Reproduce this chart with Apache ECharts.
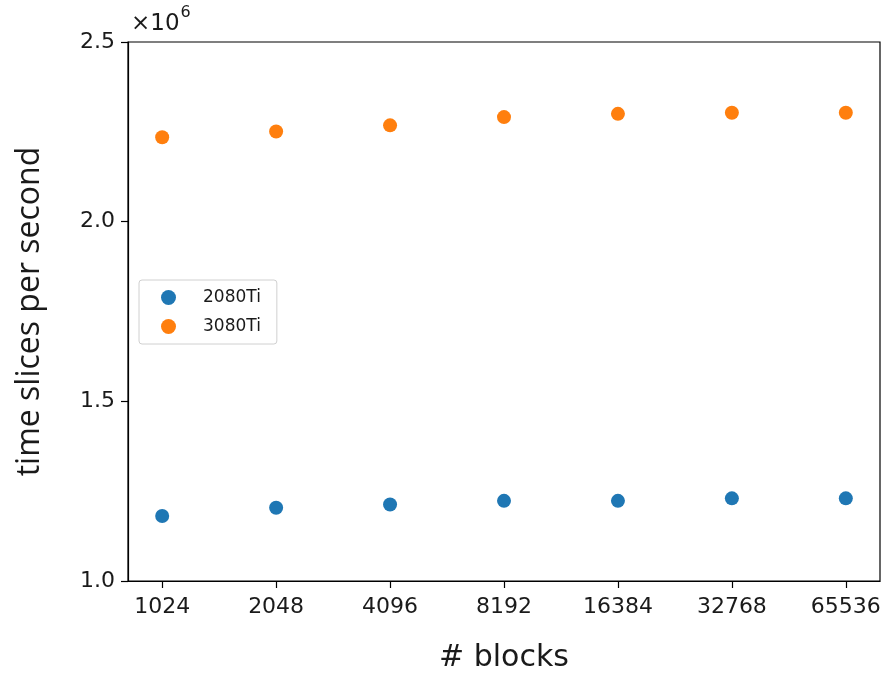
<!DOCTYPE html>
<html>
<head>
<meta charset="utf-8">
<script src="https://cdn.jsdelivr.net/npm/echarts@6/dist/echarts.min.js"></script>
<style>
  html, body { margin: 0; padding: 0; background: #fff; }
  #chart { width: 894px; height: 678px; }
</style>
</head>
<body>
<div id="chart"></div>
<script>
// Block counts along the x axis
const blockCounts = ['1024', '2048', '4096', '8192', '16384', '32768', '65536'];
// Throughput (time slices per second) for each GPU
const rate2080Ti = [1.181e6, 1.204e6, 1.213e6, 1.223e6, 1.223e6, 1.230e6, 1.230e6];
const rate3080Ti = [2.235e6, 2.251e6, 2.268e6, 2.291e6, 2.300e6, 2.303e6, 2.303e6];
// Y tick settings
const yMin = 1.0e6, yMax = 2.5e6, yStep = 0.5e6;

const tickIdx = blockCounts.map((_, i) => i);
const toPoints = vals => vals.map((v, i) => [i, v]);

const chart = echarts.init(document.getElementById('chart'), null, { renderer: 'canvas' });
const ink = '#1a1a1a';
const tickFont = { fontFamily: 'DejaVu Sans', fontSize: 22, color: ink };

chart.setOption({
  animation: false,
  backgroundColor: '#fff',
  grid: {
    left: 128, right: 14, top: 42, bottom: 95,
    show: true, borderColor: '#000', borderWidth: 1.2, backgroundColor: 'transparent'
  },
  legend: {
    orient: 'vertical',
    left: 139, top: 280,
    padding: [9, 16, 9, 22],
    itemGap: 12,
    itemWidth: 15, itemHeight: 15,
    borderColor: '#d0d0d0', borderWidth: 1, borderRadius: 3,
    backgroundColor: '#fff',
    textStyle: { fontFamily: 'DejaVu Sans', fontSize: 17, color: ink, padding: [0, 0, 0, 22] },
    data: [{ name: '2080Ti', icon: 'circle' }, { name: '3080Ti', icon: 'circle' }]
  },
  xAxis: {
    type: 'value',
    min: -0.3, max: 6.3,
    name: '# blocks',
    nameLocation: 'middle',
    nameGap: 62,
    nameTextStyle: { fontFamily: 'DejaVu Sans', fontSize: 30, color: ink },
    splitLine: { show: false },
    axisLine: { show: true, onZero: false, lineStyle: { color: '#000', width: 1.2 } },
    axisTick: { show: true, inside: false, length: 7, customValues: tickIdx, lineStyle: { color: '#000', width: 1.2 } },
    axisLabel: Object.assign({
      customValues: tickIdx,
      margin: 15,
      formatter: v => blockCounts[Math.round(v)] || ''
    }, tickFont)
  },
  yAxis: {
    type: 'value',
    min: yMin, max: yMax, interval: yStep,
    name: 'time slices per second',
    nameLocation: 'middle',
    nameGap: 82,
    nameTextStyle: { fontFamily: 'Open Sans', fontSize: 32, color: ink },
    splitLine: { show: false },
    axisLine: { show: true, onZero: false, lineStyle: { color: '#000', width: 1.2 } },
    axisTick: { show: true, inside: false, length: 7, lineStyle: { color: '#000', width: 1.2 } },
    axisLabel: Object.assign({
      margin: 13,
      formatter: v => (v / 1e6).toFixed(1)
    }, tickFont)
  },
  graphic: [{
    type: 'text',
    left: 131, top: 5,
    style: {
      text: '{b|×10}{s|6}',
      rich: {
        b: { fontFamily: 'DejaVu Sans', fontSize: 23, fill: ink, verticalAlign: 'bottom', padding: [8, 0, 0, 0] },
        s: { fontFamily: 'DejaVu Sans', fontSize: 16, fill: ink, verticalAlign: 'top', padding: [0, 0, 10, 1] }
      }
    }
  }],
  series: [
    {
      name: '2080Ti', type: 'scatter', symbol: 'circle', symbolSize: 14,
      itemStyle: { color: '#1f77b4', opacity: 1 },
      data: toPoints(rate2080Ti)
    },
    {
      name: '3080Ti', type: 'scatter', symbol: 'circle', symbolSize: 14,
      itemStyle: { color: '#ff7f0e', opacity: 1 },
      data: toPoints(rate3080Ti)
    }
  ]
});
</script>
</body>
</html>
